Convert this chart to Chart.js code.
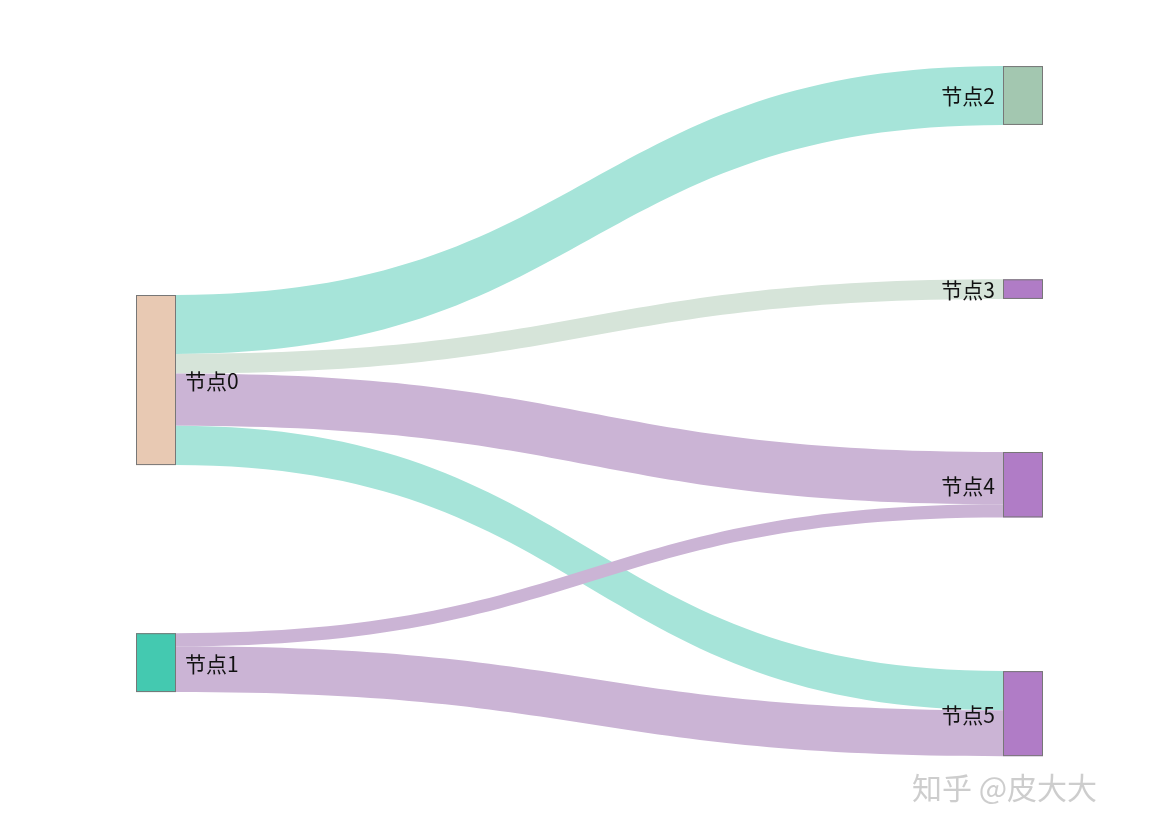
<!DOCTYPE html>
<html>
<head>
<meta charset="utf-8">
<script src="https://cdn.jsdelivr.net/npm/chart.js@4"></script>
<style>
  html, body { margin: 0; padding: 0; background: #fff; }
  #wrap { width: 1160px; height: 834px; }
</style>
</head>
<body>
<div id="wrap"><canvas id="sankey"></canvas></div>
<script>
// data
var nodeNames = ["节点0", "节点1", "节点2", "节点3", "节点4", "节点5"];
var linkSource = [0, 0, 0, 0, 1, 1];
var linkTarget = [2, 3, 4, 5, 4, 5];
var linkValue  = [9, 3, 8, 6, 2, 7];

// layout / style
var nodeColumn = [0, 0, 1, 1, 1, 1];
var nodeTop = [45.1, 96.8, 10.1, 42.7, 69.1, 102.6];
var nodeColors = ['#e8c9b3', '#44c9b0', '#a3c7b0', '#b07cc6', '#b07cc6', '#b07cc6'];
var linkColors = ['#a6e4d9', '#d6e4d9', '#cbb4d5', '#a6e4d9', '#cbb4d5', '#cbb4d5'];
var NODE_W = 40;

function nodeSize(i) {
    var inn = 0, out = 0;
    for (var k = 0; k < linkValue.length; k++) {
        if (linkSource[k] === i) out += linkValue[k];
        if (linkTarget[k] === i) inn += linkValue[k];
    }
    return Math.max(inn, out);
}

var sankeyPlugin = {
    id: 'sankey',
    afterDatasetsDraw: function(chart) {
        var ctx = chart.ctx, xs = chart.scales.x, ys = chart.scales.y;
        var outOff = nodeNames.map(function() { return 0; });
        var inOff = nodeNames.map(function() { return 0; });
        ctx.save();
        // links
        for (var k = 0; k < linkValue.length; k++) {
            var s = linkSource[k], t = linkTarget[k], v = linkValue[k];
            var x0 = xs.getPixelForValue(nodeColumn[s]) + NODE_W;
            var x1 = xs.getPixelForValue(nodeColumn[t]) - NODE_W;
            var sy0 = ys.getPixelForValue(nodeTop[s] + outOff[s]);
            var sy1 = ys.getPixelForValue(nodeTop[s] + outOff[s] + v);
            var ty0 = ys.getPixelForValue(nodeTop[t] + inOff[t]);
            var ty1 = ys.getPixelForValue(nodeTop[t] + inOff[t] + v);
            outOff[s] += v; inOff[t] += v;
            var xm = (x0 + x1) / 2;
            ctx.beginPath();
            ctx.moveTo(x0, sy0);
            ctx.bezierCurveTo(xm, sy0, xm, ty0, x1, ty0);
            ctx.lineTo(x1, ty1);
            ctx.bezierCurveTo(xm, ty1, xm, sy1, x0, sy1);
            ctx.closePath();
            ctx.fillStyle = linkColors[k];
            ctx.fill();
        }
        // nodes
        ctx.font = '21px "Noto Sans CJK SC", "Noto Sans", sans-serif';
        ctx.textBaseline = 'middle';
        for (var i = 0; i < nodeNames.length; i++) {
            var left = nodeColumn[i] === 0;
            var xa = xs.getPixelForValue(nodeColumn[i]) - (left ? 0 : NODE_W);
            var ya = ys.getPixelForValue(nodeTop[i]);
            var yb = ys.getPixelForValue(nodeTop[i] + nodeSize(i));
            ctx.fillStyle = nodeColors[i];
            ctx.fillRect(xa, ya, NODE_W, yb - ya);
            ctx.strokeStyle = '#777';
            ctx.lineWidth = 1;
            ctx.strokeRect(xa + 0.5, ya + 0.5, NODE_W - 1, yb - ya - 1);
            ctx.fillStyle = '#111';
            ctx.textAlign = left ? 'left' : 'right';
            ctx.fillText(nodeNames[i], left ? xa + NODE_W + 9 : xa - 8, (ya + yb) / 2 + 1);
        }
        // watermark
        ctx.font = '30px "Noto Sans CJK SC", sans-serif';
        ctx.fillStyle = 'rgba(200,200,200,0.9)';
        ctx.textAlign = 'left';
        ctx.fillText('知乎 @皮大大', 912, 788);
        ctx.restore();
    }
};

new Chart(document.getElementById('sankey').getContext('2d'), {
    type: 'scatter',
    data: { datasets: [{ data: [] }] },
    options: {
        responsive: true,
        maintainAspectRatio: false,
        animation: false,
        layout: { padding: { left: 136, right: 117, top: 0, bottom: 0 } },
        plugins: { legend: { display: false }, tooltip: { enabled: false } },
        scales: {
            x: { type: 'linear', min: 0, max: 1, display: false },
            y: { type: 'linear', min: 0, max: 127.5, reverse: true, display: false }
        }
    },
    plugins: [sankeyPlugin]
});
</script>
</body>
</html>
